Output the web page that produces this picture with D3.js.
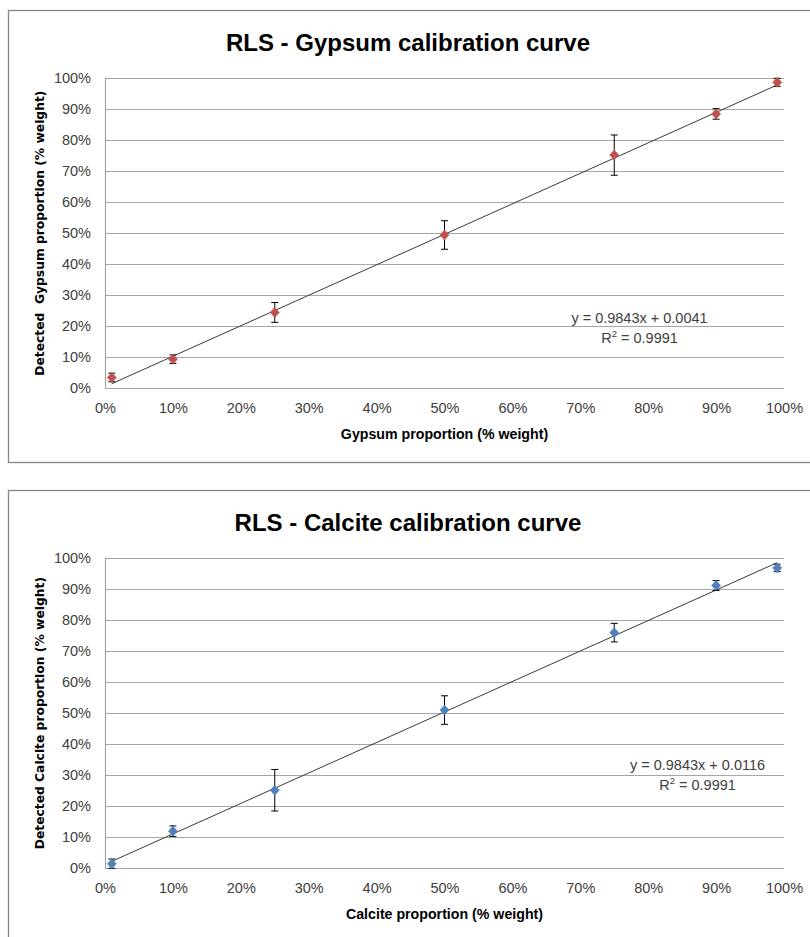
<!DOCTYPE html>
<html>
<head>
<meta charset="utf-8">
<script src="https://cdn.jsdelivr.net/npm/d3@7"></script>
<style>
  html, body { margin: 0; padding: 0; background: #ffffff; }
  svg { display: block; }
</style>
</head>
<body>
<svg id="chart" width="810" height="937"></svg>
<script>
// ---- data ----
const xTickLabels = ["0%","10%","20%","30%","40%","50%","60%","70%","80%","90%","100%"];
const yTickLabels = ["0%","10%","20%","30%","40%","50%","60%","70%","80%","90%","100%"];
const tickValues = [0,10,20,30,40,50,60,70,80,90,100];

const gypsumX = [1, 10, 25, 50, 75, 90, 99];
const gypsumY = [3.4, 9.3, 24.4, 49.4, 75.2, 88.5, 98.7];
const gypsumErr = [1.4, 1.4, 3.2, 4.6, 6.5, 1.7, 1.3];
const gypsumFit = { slope: 0.9843, intercept: 0.0041, r2: "0.9991", eq: "y = 0.9843x + 0.0041" };

const calciteX = [1, 10, 25, 50, 75, 90, 99];
const calciteY = [1.4, 11.9, 25.1, 51.0, 76.0, 91.2, 96.9];
const calciteErr = [1.5, 1.7, 6.7, 4.6, 3.0, 1.6, 1.2];
const calciteFit = { slope: 0.9843, intercept: 0.0116, r2: "0.9991", eq: "y = 0.9843x + 0.0116" };

const charts = [
  { title: "RLS - Gypsum calibration curve", xTitle: "Gypsum proportion (% weight)",
    yTitle: "Detected  Gypsum proportion (% weight)", xs: gypsumX, ys: gypsumY, errs: gypsumErr,
    fit: gypsumFit, color: "#C0504D", top: 10, height: 452, eqX: 639.5, eqY: 240 },
  { title: "RLS - Calcite calibration curve", xTitle: "Calcite proportion (% weight)",
    yTitle: "Detected Calcite proportion (% weight)", xs: calciteX, ys: calciteY, errs: calciteErr,
    fit: calciteFit, color: "#4F81BD", top: 490, height: 460, eqX: 697.5, eqY: 207 }
];

const svg = d3.select("#chart");
const narrow = "'Liberation Sans Narrow', 'Liberation Sans', Arial, sans-serif";

charts.forEach(c => {
  const g = svg.append("g").attr("transform", `translate(0,${c.top})`);
  // outer border
  g.append("rect").attr("x", 8.5).attr("y", 0.5).attr("width", 810).attr("height", c.height)
    .attr("fill", "#fff").attr("stroke", "#868686").attr("stroke-width", 1.3);

  const x = d3.scaleLinear().domain([0, 100]).range([105, 784]);
  const y = d3.scaleLinear().domain([0, 100]).range([378, 68.3]);

  // title
  g.append("text").attr("x", 408).attr("y", 41).attr("text-anchor", "middle")
    .attr("font-family", narrow).attr("font-weight", "bold").attr("font-size", 24)
    .attr("fill", "#000").text(c.title);

  // gridlines
  g.append("g").selectAll("line").data(tickValues).join("line")
    .attr("x1", x(0)).attr("x2", x(100))
    .attr("y1", d => Math.round(y(d)) + 0.5).attr("y2", d => Math.round(y(d)) + 0.5)
    .attr("stroke", "#a6a6a6").attr("stroke-width", 1.2);

  // y axis line
  g.append("line").attr("x1", x(0) + 0.5).attr("x2", x(0) + 0.5)
    .attr("y1", y(100)).attr("y2", y(0)).attr("stroke", "#a6a6a6").attr("stroke-width", 1.2);

  // y axis labels
  const yAxis = d3.axisLeft(y).tickValues(tickValues).tickFormat((d, i) => yTickLabels[i]).tickSize(0).tickPadding(14);
  const ya = g.append("g").attr("transform", `translate(${x(0)},0)`).call(yAxis);
  ya.select(".domain").remove();
  ya.selectAll("text").attr("font-family", narrow).attr("font-size", 14.5).attr("fill", "#404040");

  // x axis labels
  const xAxis = d3.axisBottom(x).tickValues(tickValues).tickFormat((d, i) => xTickLabels[i]).tickSize(0).tickPadding(15);
  const xa = g.append("g").attr("transform", `translate(0,${y(0)})`).call(xAxis);
  xa.select(".domain").remove();
  xa.selectAll("text").attr("font-family", narrow).attr("font-size", 14.5).attr("fill", "#404040");

  // axis titles
  g.append("text").attr("x", (x(0) + x(100)) / 2).attr("y", 429).attr("text-anchor", "middle")
    .attr("font-family", narrow).attr("font-weight", "bold").attr("font-size", 14.2).attr("fill", "#000")
    .text(c.xTitle);
  g.append("text").attr("transform", `translate(44,${(y(0) + y(100)) / 2}) rotate(-90)`)
    .attr("text-anchor", "middle").attr("font-family", "'DejaVu Sans', Verdana, sans-serif")
    .attr("font-weight", "bold").attr("font-size", 12.3).attr("fill", "#000")
    .attr("xml:space", "preserve").style("white-space", "pre").text(c.yTitle);

  // trendline
  const x0 = c.xs[0], x1 = c.xs[c.xs.length - 1];
  g.append("line")
    .attr("x1", x(x0)).attr("y1", y((c.fit.slope * x0 / 100 + c.fit.intercept) * 100))
    .attr("x2", x(x1)).attr("y2", y((c.fit.slope * x1 / 100 + c.fit.intercept) * 100))
    .attr("stroke", "#3a3a3a").attr("stroke-width", 1);

  const pts = c.xs.map((v, i) => ({ x: v, y: c.ys[i], e: c.errs[i] }));

  // error bars
  const eb = g.append("g").selectAll("g").data(pts).join("g").attr("stroke", "#000").attr("stroke-width", 1);
  eb.append("line").attr("x1", d => x(d.x)).attr("x2", d => x(d.x))
    .attr("y1", d => y(d.y - d.e)).attr("y2", d => y(d.y + d.e));
  eb.append("line").attr("x1", d => x(d.x) - 3.5).attr("x2", d => x(d.x) + 3.5)
    .attr("y1", d => y(d.y + d.e)).attr("y2", d => y(d.y + d.e));
  eb.append("line").attr("x1", d => x(d.x) - 3.5).attr("x2", d => x(d.x) + 3.5)
    .attr("y1", d => y(d.y - d.e)).attr("y2", d => y(d.y - d.e));

  // markers
  g.append("g").selectAll("path").data(pts).join("path")
    .attr("transform", d => `translate(${x(d.x)},${y(d.y)})`)
    .attr("d", "M0,-5L4.5,0L0,5L-4.5,0Z")
    .attr("fill", c.color).attr("stroke", c.color).attr("stroke-width", 0.6);

  // equation
  g.append("text").attr("x", c.eqX).attr("y", c.eqY + 73).attr("text-anchor", "middle")
    .attr("font-family", narrow).attr("font-size", 14.5).attr("fill", "#404040").text(c.fit.eq);
  const r = g.append("text").attr("x", c.eqX).attr("y", c.eqY + 93).attr("text-anchor", "middle")
    .attr("font-family", narrow).attr("font-size", 14.5).attr("fill", "#404040");
  r.append("tspan").text("R");
  r.append("tspan").attr("font-size", 9.5).attr("dy", -6).text("2");
  r.append("tspan").attr("dy", 6).text(" = " + c.fit.r2);
});
</script>
</body>
</html>
